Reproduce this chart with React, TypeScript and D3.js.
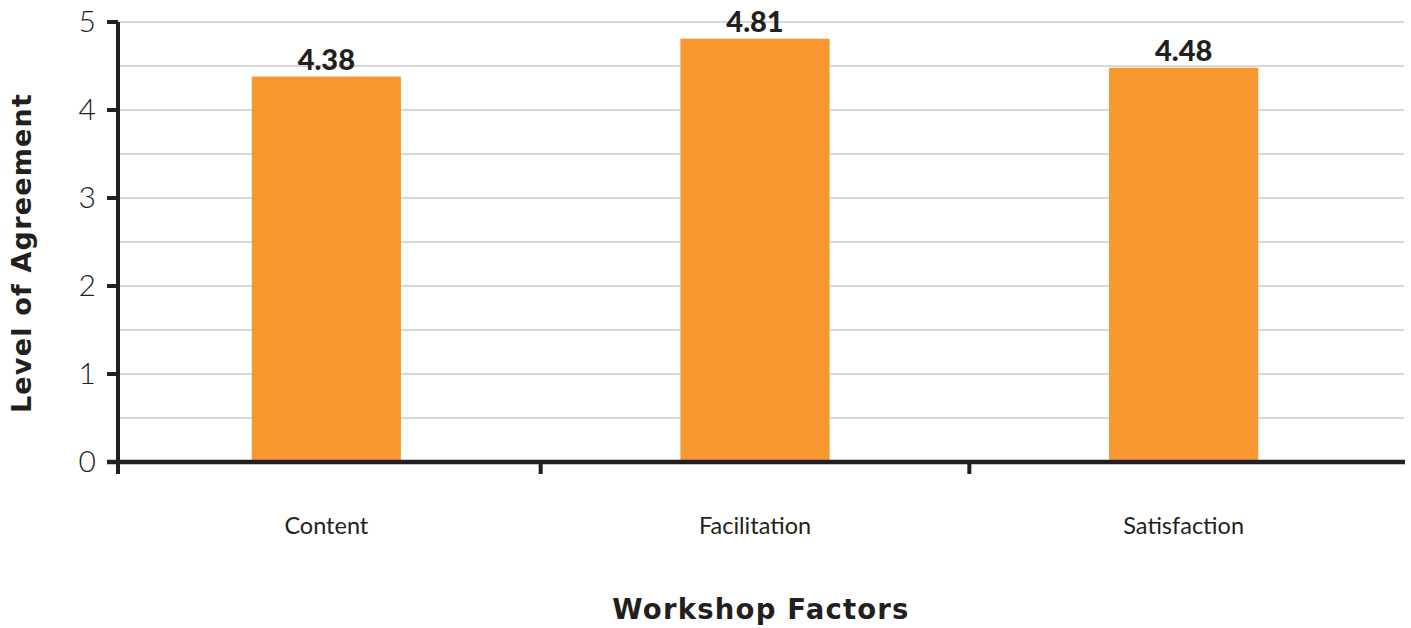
import React from "react";
import * as d3 from "d3";

const categories = ["Content", "Facilitation", "Satisfaction"];
const values = [4.38, 4.81, 4.48];
const valueLabels = ["4.38", "4.81", "4.48"];
const yTicks = [0, 1, 2, 3, 4, 5];
const yTickLabels = ["0", "1", "2", "3", "4", "5"];
const gridValues = [0.5, 1, 1.5, 2, 2.5, 3, 3.5, 4, 4.5, 5];

const W = 1411;
const H = 628;
const left = 118;
const right = 1404;
const top = 22;
const bottom = 462;
const ink = "#231f20";
const barColor = "#f7972f";

export default function App() {
  const x = d3.scaleBand<string>().domain(categories).range([112, 1398]).paddingInner(0).paddingOuter(0);
  const y = d3.scaleLinear().domain([0, 5]).range([bottom, top]);
  const barW = x.bandwidth() * 0.348;
  const bounds = x.domain().map((c) => x(c) as number);

  return (
    <svg
      width={W}
      height={H}
      style={{ position: "absolute", left: 0, top: 0, background: "#fff" }}
      fontFamily="Lato, 'Open Sans', sans-serif"
    >
      {/* horizontal gridlines */}
      {gridValues.map((v) => (
        <line key={v} x1={left} x2={right} y1={y(v)} y2={y(v)} stroke="#cbcbcb" strokeWidth={1.3} />
      ))}

      {/* bars */}
      {categories.map((c, i) => {
        const cx = (x(c) as number) + x.bandwidth() / 2;
        return (
          <g key={c}>
            <rect x={cx - barW / 2} y={y(values[i])} width={barW} height={bottom - y(values[i])} fill={barColor} />
            <text
              x={cx}
              y={y(values[i]) - 7}
              textAnchor="middle"
              fontSize={29}
              fontWeight={900}
              fill={ink}
            >
              {valueLabels[i]}
            </text>
            <text x={cx} y={534} textAnchor="middle" fontSize={23.5} fill={ink}>
              {c}
            </text>
          </g>
        );
      })}

      {/* y axis */}
      <line x1={left} x2={left} y1={top} y2={bottom + 12} stroke={ink} strokeWidth={4} />
      {yTicks.map((t, i) => (
        <g key={t}>
          <line x1={107} x2={left} y1={y(t)} y2={y(t)} stroke={ink} strokeWidth={4} />
          <text x={96} y={y(t) + 10} textAnchor="end" fontSize={30} fontWeight={300} fill={ink}>
            {yTickLabels[i]}
          </text>
        </g>
      ))}

      {/* x axis */}
      <line x1={107} x2={right + 1} y1={bottom} y2={bottom} stroke={ink} strokeWidth={4.5} />
      {bounds.slice(1).map((b, i) => (
        <line key={i} x1={b} x2={b} y1={bottom} y2={bottom + 12} stroke={ink} strokeWidth={4} />
      ))}

      {/* axis titles */}
      <text
        transform={`translate(31, 253) rotate(-90)`}
        textAnchor="middle"
        fontSize={27}
        fontWeight={700}
        letterSpacing={1.2}
        fontFamily="'DejaVu Sans', sans-serif"
        fill={ink}
      >
        Level of Agreement
      </text>
      <text
        x={761}
        y={619}
        textAnchor="middle"
        fontSize={27.5}
        fontWeight={700}
        letterSpacing={1.2}
        fontFamily="'DejaVu Sans', sans-serif"
        fill={ink}
      >
        Workshop Factors
      </text>
    </svg>
  );
}
